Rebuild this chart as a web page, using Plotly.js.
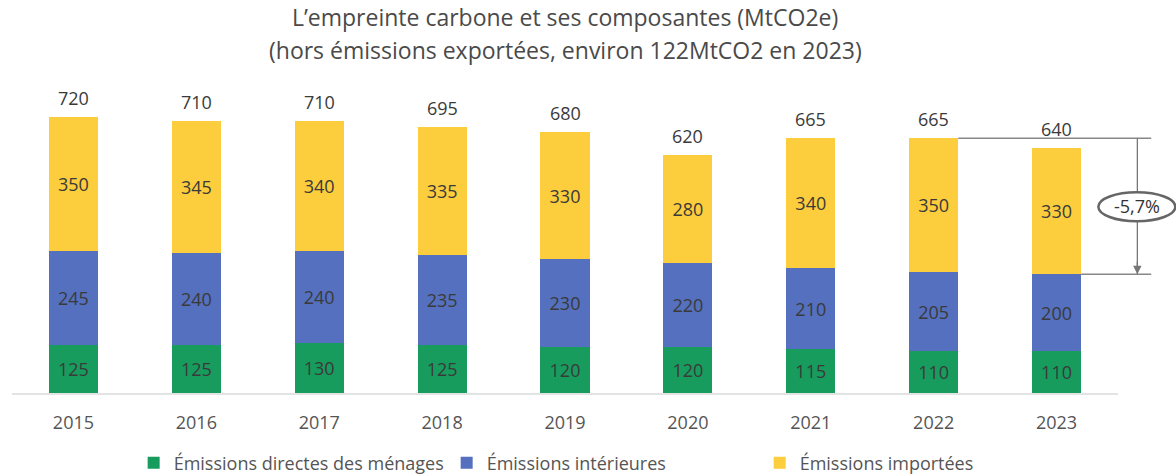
<!DOCTYPE html>
<html>
<head>
<meta charset="utf-8">
<script src="https://cdn.plot.ly/plotly-3.0.1.min.js"></script>
<style>
  body { margin: 0; background: #fff; }
  #chart { width: 1176px; height: 476px; }
</style>
</head>
<body>
<div id="chart"></div>
<script>
var years = ["2015", "2016", "2017", "2018", "2019", "2020", "2021", "2022", "2023"];
var menages = [125, 125, 130, 125, 120, 120, 115, 110, 110];
var interieures = [245, 240, 240, 235, 230, 220, 210, 205, 200];
var importees = [350, 345, 340, 335, 330, 280, 340, 350, 330];
var totals = [720, 710, 710, 695, 680, 620, 665, 665, 640];
var variation = "-5,7%";

var font = "Open Sans, Lato, sans-serif";
var labelFont = { family: font, size: 18, color: "#3a3a3a" };

function barTrace(name, vals, color) {
  return {
    type: "bar",
    name: name,
    x: years,
    y: vals,
    text: vals.map(String),
    textposition: "inside",
    insidetextanchor: "middle",
    textangle: 0,
    constraintext: "none",
    textfont: labelFont,
    marker: { color: color, line: { width: 0 } },
    hoverinfo: "skip"
  };
}

var traces = [
  barTrace("Émissions directes des ménages", menages, "#179c5e"),
  barTrace("Émissions intérieures", interieures, "#5470be"),
  barTrace("Émissions importées", importees, "#fccd3c")
];

var annotations = [];
// totals above each bar (x given as category index)
for (var i = 0; i < years.length; i++) {
  annotations.push({
    x: i,
    y: totals[i],
    xref: "x",
    yref: "y",
    text: String(totals[i]),
    showarrow: false,
    xanchor: "center",
    yanchor: "bottom",
    yshift: 5,
    font: labelFont
  });
}

// second line of the title (plot area runs from 80px to 393px)
annotations.push({
  x: 0.5,
  y: (393 - 50) / 313,
  xref: "paper",
  yref: "paper",
  text: "(hors émissions exportées, environ 122MtCO2 en 2023)",
  showarrow: false,
  xanchor: "center",
  yanchor: "middle",
  font: { family: font, size: 23, color: "#4a4a4a" }
});

var last = years.length - 1;
var lowY = menages[last] + interieures[last];
var topY = totals[last - 1];
var arrowX = 1.0175;
var midY = (lowY + topY) / 2;

// arrow head at the lower line
annotations.push({
  x: arrowX,
  y: lowY,
  xref: "paper",
  yref: "y",
  showarrow: true,
  ax: 0,
  ay: -14,
  axref: "pixel",
  ayref: "pixel",
  arrowhead: 2,
  arrowsize: 1.3,
  arrowwidth: 1.3,
  arrowcolor: "#777",
  text: ""
});
// percentage label
annotations.push({
  x: arrowX,
  y: midY,
  xref: "paper",
  yref: "y",
  text: variation,
  showarrow: false,
  xanchor: "center",
  yanchor: "middle",
  font: { family: font, size: 18, color: "#333" }
});

var shapes = [
  // upper bracket line from 2022 bar
  { type: "line", xref: "paper", yref: "y", x0: (7.2 + 0.5) / 9, x1: 1.03, y0: topY, y1: topY,
    line: { color: "#888", width: 1.3 } },
  // lower bracket line from 2023 bar
  { type: "line", xref: "paper", yref: "y", x0: (8.2 + 0.5) / 9, x1: 1.03, y0: lowY, y1: lowY,
    line: { color: "#888", width: 1.3 } },
  // vertical arrow shaft
  { type: "line", xref: "paper", yref: "y", x0: arrowX, x1: arrowX, y0: topY, y1: lowY,
    line: { color: "#777", width: 1.3 } },
  // ellipse around label
  { type: "circle", xref: "paper", yref: "y",
    xsizemode: "pixel", ysizemode: "pixel", xanchor: arrowX, yanchor: midY,
    x0: -39, x1: 38, y0: -15, y1: 14,
    fillcolor: "#fff", line: { color: "#666", width: 2.5 } }
];

var layout = {
  width: 1176,
  height: 476,
  margin: { l: 11.5, r: 58, t: 80, b: 83, autoexpand: false },
  paper_bgcolor: "#fff",
  plot_bgcolor: "#fff",
  barmode: "stack",
  bargap: 0.6,
  showlegend: true,
  title: {
    text: "L’empreinte carbone et ses composantes (MtCO2e)",
    x: 0.4805,
    xanchor: "center",
    y: 1 - 18 / 476,
    yanchor: "middle",
    yref: "container",
    font: { family: font, size: 23, color: "#4a4a4a" }
  },
  xaxis: {
    type: "category",
    range: [-0.5, 8.5],
    showline: true,
    linecolor: "#e3e3e3",
    linewidth: 2,
    ticks: "outside",
    ticklen: 12,
    tickcolor: "rgba(0,0,0,0)",
    tickfont: { family: font, size: 18, color: "#555" },
    fixedrange: true
  },
  yaxis: {
    range: [0, 817],
    visible: false,
    showgrid: false,
    zeroline: false,
    fixedrange: true
  },
  legend: {
    orientation: "h",
    x: 0.11,
    xanchor: "left",
    yref: "container",
    y: 1 - 463 / 476,
    yanchor: "middle",
    traceorder: "normal",
    font: { family: font, size: 18, color: "#555" },
    itemwidth: 30,
    entrywidth: 268,
    entrywidthmode: "pixels"
  },
  annotations: annotations,
  shapes: shapes
};

Plotly.newPlot("chart", traces, layout, { displayModeBar: false, staticPlot: true });
</script>
</body>
</html>
